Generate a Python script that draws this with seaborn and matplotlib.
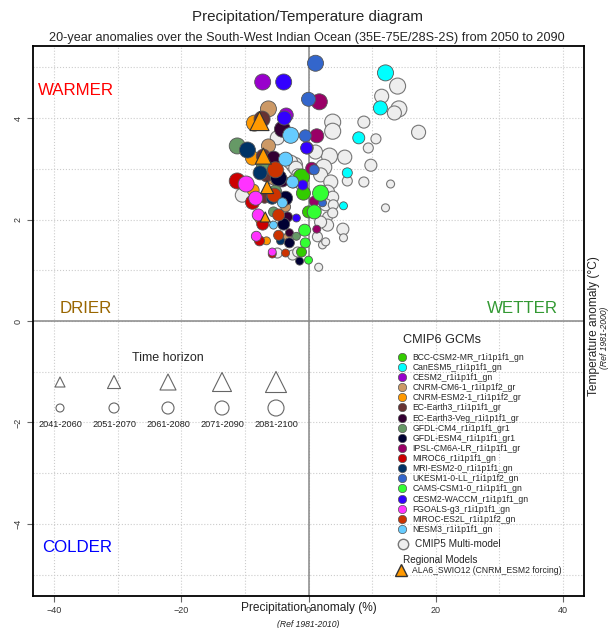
import pandas as pd
import matplotlib
matplotlib.use("Agg")
import matplotlib.pyplot as plt
import seaborn as sns
from matplotlib.lines import Line2D
from matplotlib.ticker import MultipleLocator

sns.set_style("white")
plt.rcParams["font.family"] = ["Liberation Sans", "DejaVu Sans"]

# -------------------------------------------------
# data (precipitation anomaly %, temperature anomaly degC, period index)
# -------------------------------------------------

periods = ["2041-2060", "2051-2070", "2061-2080", "2071-2090", "2081-2100"]

gcm_names = [
    "BCC-CSM2-MR_r1i1p1f1_gn", "CanESM5_r1i1p1f1_gn", "CESM2_r1i1p1f1_gn",
    "CNRM-CM6-1_r1i1p1f2_gr", "CNRM-ESM2-1_r1i1p1f2_gr", "EC-Earth3_r1i1p1f1_gr",
    "EC-Earth3-Veg_r1i1p1f1_gr", "GFDL-CM4_r1i1p1f1_gr1", "GFDL-ESM4_r1i1p1f1_gr1",
    "IPSL-CM6A-LR_r1i1p1f1_gr", "MIROC6_r1i1p1f1_gn", "MRI-ESM2-0_r1i1p1f1_gn",
    "UKESM1-0-LL_r1i1p1f2_gn", "CAMS-CSM1-0_r1i1p1f1_gn", "CESM2-WACCM_r1i1p1f1_gn",
    "FGOALS-g3_r1i1p1f1_gn", "MIROC-ES2L_r1i1p1f2_gn", "NESM3_r1i1p1f1_gn",
]
gcm_colors = [
    "#33cc00", "#00ffff", "#9900cc", "#cc9966", "#ff9900", "#663333",
    "#330033", "#669966", "#000033", "#990066", "#cc0000", "#003366",
    "#3366cc", "#33ff33", "#3300ff", "#ff33ff", "#cc3300", "#66ccff",
]

gcm_x = [
    [-1.1, 0.0, -0.8, -1.1],
    [5.5, 6.1, 7.9, 11.3, 12.1],
    [-2.4, -0.2, -3.5, -7.2],
    [-3.3, -3.6, -5.5, -6.3, -6.3],
    [-6.6, -7.6, -8.7, -8.8, -8.5],
    [-6.9, -6.9, -6.6, -7.1, -7.3],
    [-3.0, -3.3, -4.1, -5.5, -4.1],
    [-1.9, -5.5, -5.2, -7.1, -11.2],
    [-1.4, -3.0, -3.9, -3.6, -4.7],
    [1.3, 0.9, 0.5, 1.3, 1.7],
    [-5.7, -7.7, -7.2, -8.8, -11.2],
    [-4.4, -5.7, -7.6, -9.6],
    [2.2, 0.9, -0.5, 0.0, 1.1],
    [0.0, -0.5, -0.6, 0.9, 1.9],
    [-1.9, -0.9, -0.3, -3.8, -3.9],
    [-5.7, -8.2, -7.9, -8.3, -9.8],
    [-3.6, -4.7, -4.7, -5.4, -5.2],
    [-5.5, -4.1, -2.5, -3.6, -2.8],
]
gcm_y = [
    [1.36, 2.15, 2.52, 2.84],
    [2.27, 2.92, 3.61, 4.20, 4.89],
    [2.72, 3.41, 4.06, 4.71],
    [1.66, 2.25, 2.80, 3.45, 4.18],
    [1.58, 2.01, 2.58, 3.21, 3.90],
    [1.98, 2.42, 2.86, 3.25, 3.98],
    [1.74, 2.05, 2.76, 3.21, 3.78],
    [1.67, 2.15, 2.56, 3.03, 3.45],
    [1.18, 1.54, 1.91, 2.42, 2.82],
    [1.81, 2.36, 3.01, 3.65, 4.32],
    [1.32, 1.58, 1.91, 2.34, 2.76],
    [1.58, 2.42, 2.92, 3.37],
    [2.33, 2.98, 3.65, 4.37, 5.08],
    [1.20, 1.54, 1.79, 2.15, 2.52],
    [2.03, 2.68, 3.41, 4.00, 4.71],
    [1.36, 1.67, 2.09, 2.42, 2.70],
    [1.34, 1.69, 2.09, 2.48, 2.98],
    [1.89, 2.33, 2.74, 3.19, 3.66],
]
gcm_period = [
    [1, 2, 3, 4],
    [0, 1, 2, 3, 4],
    [1, 2, 3, 4],
    [0, 1, 2, 3, 4],
    [0, 1, 2, 3, 4],
    [0, 1, 2, 3, 4],
    [0, 1, 2, 3, 4],
    [0, 1, 2, 3, 4],
    [0, 1, 2, 3, 4],
    [0, 1, 2, 3, 4],
    [0, 1, 2, 3, 4],
    [0, 2, 3, 4],
    [0, 1, 2, 3, 4],
    [0, 1, 2, 3, 4],
    [0, 1, 2, 3, 4],
    [0, 1, 2, 3, 4],
    [0, 1, 2, 3, 4],
    [0, 1, 2, 3, 4],
]

cmip5_x = [14.0, 11.5, 14.2, 13.5, 17.3, 8.7, 3.8, 3.8, 10.6, 9.4, 5.7, 3.3,
           9.8, 6.1, 8.7, 12.9, 12.1, 5.4, 5.5, 1.6, -4.9, -2.2, 1.1, 2.4,
           1.9, 3.5, 3.0, 3.8, 2.7, 3.9, 3.0, 3.8, 3.0, 1.9, 1.4, 2.2, 2.7,
           -2.8, -2.0, -1.7, -2.2, -1.3, -10.4, -4.9, -2.5, -1.7]
cmip5_y = [4.63, 4.43, 4.18, 4.10, 3.72, 3.92, 3.92, 3.74, 3.59, 3.41, 3.23, 3.25,
           3.07, 2.76, 2.74, 2.70, 2.23, 1.81, 1.64, 1.06, 3.61, 3.07, 3.33, 3.03,
           2.88, 2.74, 2.54, 2.44, 2.29, 2.29, 2.05, 2.13, 1.89, 1.95, 1.66, 1.50, 1.56,
           3.13, 3.01, 2.88, 2.78, 2.72, 2.48, 1.34, 1.30, 1.36]
cmip5_period = [4, 3, 4, 3, 3, 2, 4, 4, 1, 1, 3, 4,
                2, 1, 1, 0, 0, 2, 0, 0, 3, 4, 3, 4,
                3, 3, 3, 2, 2, 1, 1, 1, 2, 2, 1, 0, 0,
                3, 3, 2, 2, 2, 3, 1, 1, 1]

ala6_x = [-6.8, -6.5, -7.1, -7.7]
ala6_y = [2.05, 2.64, 3.25, 3.94]
ala6_period = [0, 1, 2, 3]

circle_sizes = dict(zip(periods, [33, 52, 75, 102, 133]))
triangle_sizes = dict(zip(periods, [52, 88, 133, 187, 229]))

rows = []
for name, xs, ys, ps in zip(gcm_names, gcm_x, gcm_y, gcm_period):
    for x, y, p in zip(xs, ys, ps):
        rows.append({"model": name, "precip": x, "temp": y, "period": periods[p]})
df_gcm = pd.DataFrame(rows)

df_cmip5 = pd.DataFrame({"precip": cmip5_x, "temp": cmip5_y,
                         "period": [periods[p] for p in cmip5_period]})
df_ala6 = pd.DataFrame({"precip": ala6_x, "temp": ala6_y,
                        "period": [periods[p] for p in ala6_period]})

# -------------------------------------------------
# figure
# -------------------------------------------------

fig = plt.figure(figsize=(6.14, 6.28), dpi=100)
ax = fig.add_axes([33 / 614, 1 - 596 / 628, 551 / 614, 550 / 628])

ax.set_xlim(-43.3, 43.3)
ax.set_ylim(-5.42, 5.42)
ax.xaxis.set_major_locator(MultipleLocator(20))
ax.xaxis.set_minor_locator(MultipleLocator(10))
ax.yaxis.set_major_locator(MultipleLocator(2))
ax.yaxis.set_minor_locator(MultipleLocator(1))
ax.grid(which="both", color="#cccccc", linestyle=":", linewidth=0.8)
ax.set_axisbelow(True)
ax.axvline(0, color="#888888", lw=1.1, zorder=1)
ax.axhline(0, color="#888888", lw=1.1, zorder=1)

sns.scatterplot(data=df_cmip5, x="precip", y="temp", size="period",
                sizes=circle_sizes, size_order=periods, color="#eeeeee",
                edgecolor="#777777", linewidth=0.8, legend=False, ax=ax, zorder=2)
sns.scatterplot(data=df_gcm, x="precip", y="temp", hue="model",
                palette=dict(zip(gcm_names, gcm_colors)), size="period",
                sizes=circle_sizes, size_order=periods, edgecolor="#555555",
                linewidth=0.6, legend=False, ax=ax, zorder=3)
sns.scatterplot(data=df_ala6, x="precip", y="temp", size="period",
                sizes=triangle_sizes, size_order=periods, marker="^",
                color="#ff9900", edgecolor="#333333", linewidth=0.8,
                legend=False, ax=ax, zorder=4)

for side in ax.spines.values():
    side.set_color("black")
    side.set_linewidth(1.3)

ax.tick_params(which="major", direction="out", length=4, width=0.8,
               color="#666666", labelsize=6.5, labelcolor="#333333",
               bottom=True, left=True)
ax.tick_params(which="minor", length=0)
ax.tick_params(axis="y", labelrotation=90)
plt.setp(ax.get_yticklabels(), va="center")
ax.set_xlabel("")
ax.set_ylabel("")

ax.text(0.5, -0.022, "Precipitation anomaly (%)", transform=ax.transAxes,
        ha="center", va="center", fontsize=8.6, color="#222222")
ax.text(0.5, -0.051, "(Ref 1981-2010)", transform=ax.transAxes,
        ha="center", va="center", fontsize=6.2, style="italic", color="#222222")
ax.text(1.018, 0.49, "Temperature anomaly (°C)", transform=ax.transAxes,
        ha="center", va="center", rotation=90, fontsize=8.6, color="#222222")
ax.text(1.038, 0.47, "(Ref 1981-2000)", transform=ax.transAxes,
        ha="center", va="center", rotation=90, fontsize=6.2, style="italic",
        color="#222222")

ax.text(-42.6, 4.55, "WARMER", color="#ff0000", fontsize=12.2, ha="left", va="center")
ax.text(-39.1, 0.24, "DRIER", color="#996600", fontsize=12.2, ha="left", va="center")
ax.text(28.0, 0.24, "WETTER", color="#339933", fontsize=12.2, ha="left", va="center")
ax.text(-41.9, -4.47, "COLDER", color="#0000ff", fontsize=12.2, ha="left", va="center")

fig.text(0.5, 1 - 17 / 628, "Precipitation/Temperature diagram",
         ha="center", va="center", fontsize=10.9)
fig.text(0.5, 1 - 38 / 628,
         "20-year anomalies over the South-West Indian Ocean (35E-75E/28S-2S) from 2050 to 2090",
         ha="center", va="center", fontsize=9.1)

# -------------------------------------------------
# legends
# -------------------------------------------------

ax.text(0.6715, 0.465, "CMIP6 GCMs", transform=ax.transAxes,
        ha="left", va="center", fontsize=9.2)

gcm_handles = [Line2D([], [], marker="o", ls="", markerfacecolor=c,
                      markeredgecolor="#555555", markeredgewidth=0.5,
                      markersize=6, label=n)
               for n, c in zip(gcm_names, gcm_colors)]
leg1 = ax.legend(handles=gcm_handles, loc="upper left",
                 bbox_to_anchor=(0.664, 0.442), frameon=False, fontsize=6.2,
                 labelspacing=0.13, handlelength=0.8, handletextpad=0.8,
                 borderpad=0, borderaxespad=0)
ax.add_artist(leg1)

cmip5_handle = [Line2D([], [], marker="o", ls="", markerfacecolor="#eeeeee",
                       markeredgecolor="#777777", markersize=7.5,
                       label="CMIP5 Multi-model")]
leg2 = ax.legend(handles=cmip5_handle, loc="center left",
                 bbox_to_anchor=(0.664, 0.094), frameon=False, fontsize=7.2,
                 handlelength=0.8, handletextpad=0.8, borderpad=0,
                 borderaxespad=0)
ax.add_artist(leg2)

ax.text(0.6715, 0.0655, "Regional Models", transform=ax.transAxes,
        ha="left", va="center", fontsize=7.2)
ala6_handle = [Line2D([], [], marker="^", ls="", markerfacecolor="#ff9900",
                      markeredgecolor="#333333", markersize=8,
                      label="ALA6_SWIO12 (CNRM_ESM2 forcing)")]
ax.legend(handles=ala6_handle, loc="center left",
          bbox_to_anchor=(0.662, 0.047), frameon=False, fontsize=6.2,
          handlelength=0.8, handletextpad=0.8, borderpad=0, borderaxespad=0)

# time horizon key
ax_th = fig.add_axes([33 / 614, 1 - 434 / 628, 270 / 614, 78 / 628])
df_th = pd.DataFrame({"idx": range(len(periods)), "period": periods,
                      "tri": [2] * len(periods), "circ": [1] * len(periods)})
sns.scatterplot(data=df_th, x="idx", y="tri", size="period", sizes=triangle_sizes,
                size_order=periods, marker="^", color="white",
                edgecolor="#666666", linewidth=0.8, legend=False, ax=ax_th)
sns.scatterplot(data=df_th, x="idx", y="circ", size="period", sizes=circle_sizes,
                size_order=periods, color="white", edgecolor="#666666",
                linewidth=0.8, legend=False, ax=ax_th)
for i, lab in enumerate(periods):
    ax_th.text(i, 0.35, lab, ha="center", va="center", fontsize=6.6, color="#222222")
ax_th.text(2, 2.92, "Time horizon", ha="center", va="center", fontsize=9)
ax_th.set_xlim(-0.5, len(periods) - 0.5)
ax_th.set_ylim(0, 3)
ax_th.set_axis_off()

fig.savefig("out.png", dpi=100)
